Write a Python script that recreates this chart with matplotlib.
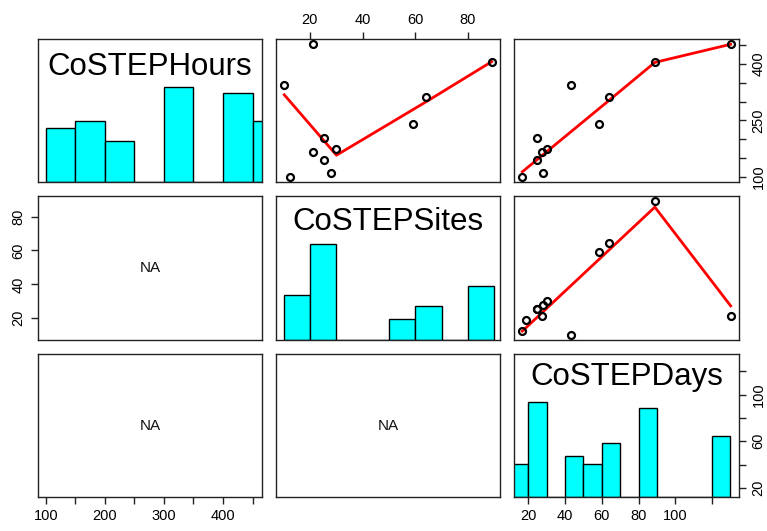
import numpy as np
import matplotlib
matplotlib.use("Agg")
import matplotlib.pyplot as plt

plt.rcParams['font.family'] = ['Liberation Sans', 'DejaVu Sans']

# ---- data (one record per observation; NaN = missing) ----
var_names = ['CoSTEPHours', 'CoSTEPSites', 'CoSTEPDays']
hours = [452, 343, 406, 312, 241, 204, 175, 167, 145, 111, 101, np.nan]
sites = [21.3, 10.3, 89, 64.2, 59.1, 25.2, 30, 21.3, 25.2, 28, 12.3, 19]
days = [130.2, 43, 88.9, 64.1, 58.6, 24.9, 30, 27.6, 24.9, 27.8, 16.7, 18.7]

# ---- diagonal histograms (bin edges, relative heights) ----
hours_hist_edges = [100, 150, 200, 250, 300, 350, 400, 450, 500]
hours_hist_heights = [0.57, 0.645, 0.425, 0, 1.0, 0, 0.93, 0.645]
sites_hist_edges = [10, 20, 30, 40, 50, 60, 70, 80, 90]
sites_hist_heights = [0.47, 1.0, 0, 0, 0.22, 0.35, 0, 0.56]
days_hist_edges = [10, 20, 30, 40, 50, 60, 70, 80, 90, 100, 110, 120, 130]
days_hist_heights = [0.35, 1.0, 0, 0.43, 0.35, 0.57, 0, 0.93, 0, 0, 0, 0.64]

# ---- smooth (lowess) line vertices ----
smooth_sites_hours_x = [10.3, 30.1, 64.2, 89.0]
smooth_sites_hours_y = [318, 158, 300, 406]
smooth_days_hours_x = [16.7, 64.1, 88.9, 130.2]
smooth_days_hours_y = [114, 304, 404, 452]
smooth_days_sites_x = [16.7, 88.9, 130.2]
smooth_days_sites_y = [12.4, 85.6, 27.3]

# ---- tick labels ----
hours_ticks = [100, 150, 200, 250, 300, 350, 400, 450]
hours_bottom_labels = ['100', '', '200', '', '300', '', '400', '']
hours_right_labels = ['100', '', '', '250', '', '', '400', '']
sites_ticks = [20, 40, 60, 80]
sites_labels = ['20', '40', '60', '80']
days_ticks = [20, 40, 60, 80, 100, 120]
days_bottom_labels = ['20', '40', '60', '80', '100', '']
days_right_labels = ['20', '', '60', '', '100', '']

data = [np.array(hours, float), np.array(sites, float), np.array(days, float)]
hists = [(hours_hist_edges, hours_hist_heights),
         (sites_hist_edges, sites_hist_heights),
         (days_hist_edges, days_hist_heights)]
smooths = {(0, 1): (smooth_sites_hours_x, smooth_sites_hours_y),
           (0, 2): (smooth_days_hours_x, smooth_days_hours_y),
           (1, 2): (smooth_days_sites_x, smooth_days_sites_y)}
label_base = [0.75, 0.765, 0.78]


def lims(v):
    lo, hi = np.nanmin(v), np.nanmax(v)
    r = hi - lo
    return lo - 0.04 * r, hi + 0.04 * r


W, H = 767, 531
fig = plt.figure(figsize=(W / 100, H / 100), dpi=100)
cols = [(38, 262), (276, 500), (514, 739)]
rows = [(39, 182), (196, 340), (354, 497)]

TS = 10.5
axes = {}
for i in range(3):
    for j in range(3):
        x0, x1 = cols[j]
        y0, y1 = rows[i]
        ax = fig.add_axes([x0 / W, 1 - y1 / H, (x1 - x0) / W, (y1 - y0) / H])
        axes[(i, j)] = ax
        for s in ax.spines.values():
            s.set_color('#222222')
            s.set_linewidth(1.0)
        ax.set_xticks([])
        ax.set_yticks([])
        ax.set_xlim(*lims(data[j]))
        if i == j:
            edges, hts = hists[i]
            edges = np.array(edges, float)
            ax.bar(edges[:-1], hts, width=np.diff(edges), align='edge',
                   color='#00FFFF', edgecolor='black', linewidth=1.0, zorder=2)
            ax.set_ylim(0, 1.5)
            ax.text(0.5, label_base[i], var_names[i], transform=ax.transAxes,
                    ha='center', va='baseline', fontsize=22.5, color='black')
        elif j > i:
            ax.set_ylim(*lims(data[i]))
            ax.plot(data[j], data[i], linestyle='none', marker='o', markersize=5,
                    markerfacecolor='none', markeredgecolor='black',
                    markeredgewidth=1.6, zorder=3)
            sx, sy = smooths[(i, j)]
            ax.plot(sx, sy, color='#FF0000', linewidth=2.0, zorder=2)
        else:
            ax.set_ylim(*lims(data[i]))
            ax.text(0.5, 0.5, 'NA', transform=ax.transAxes, ha='center',
                    va='center', fontsize=11, color='#111111')

tick_kw = dict(length=5, width=1.0, color='#222222', labelsize=TS, pad=4)

# bottom: Hours (col 0), Days (col 2)
ax = axes[(2, 0)]
ax.set_xticks(hours_ticks)
ax.set_xticklabels(hours_bottom_labels)
ax.tick_params(axis='x', **tick_kw)
ax = axes[(2, 2)]
ax.set_xticks(days_ticks)
ax.set_xticklabels(days_bottom_labels)
ax.tick_params(axis='x', **tick_kw)
# top: Sites (col 1)
ax = axes[(0, 1)]
ax.xaxis.set_ticks_position('top')
ax.set_xticks(sites_ticks)
ax.set_xticklabels(sites_labels)
ax.tick_params(axis='x', **tick_kw)
# right: Hours (row 0)
ax = axes[(0, 2)]
ax.yaxis.set_ticks_position('right')
ax.set_yticks(hours_ticks)
ax.set_yticklabels(hours_right_labels, rotation=90, va='center', ha='left')
ax.tick_params(axis='y', **tick_kw)
# left: Sites (row 1)
ax = axes[(1, 0)]
ax.set_yticks(sites_ticks)
ax.set_yticklabels(sites_labels, rotation=90, va='center', ha='right')
ax.tick_params(axis='y', **tick_kw)
# right: Days (row 2) on a twin axis so the histogram keeps its 0..1.5 scale
ax = axes[(2, 2)]
tw = ax.twinx()
tw.set_ylim(*lims(data[2]))
tw.set_yticks(days_ticks)
tw.set_yticklabels(days_right_labels, rotation=90, va='center', ha='left')
tw.tick_params(axis='y', **tick_kw)
for s in tw.spines.values():
    s.set_visible(False)

fig.savefig('out.png', dpi=100)
